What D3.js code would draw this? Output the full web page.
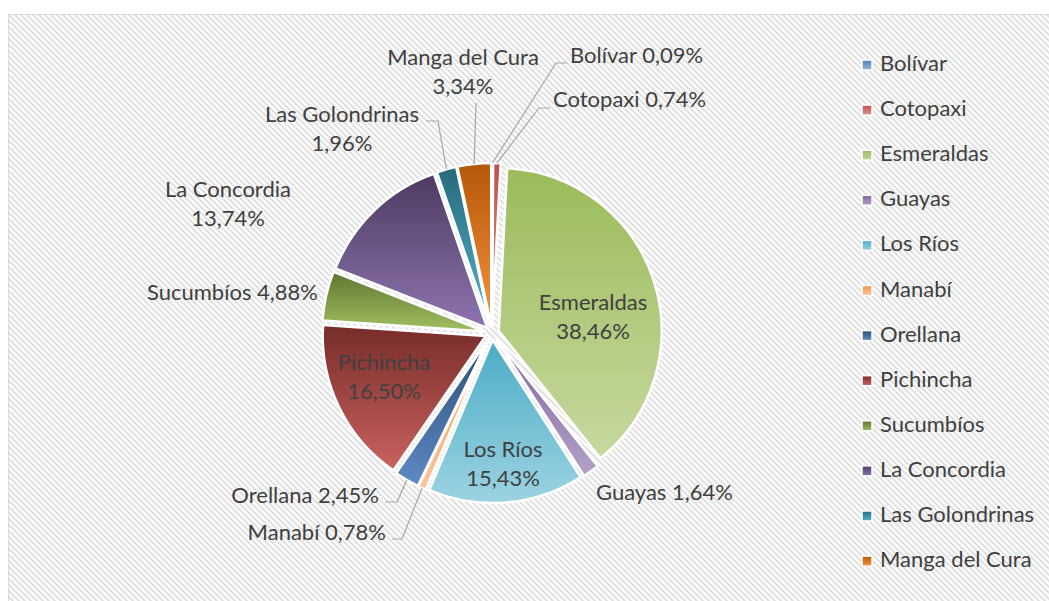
<!DOCTYPE html>
<html>
<head>
<meta charset="utf-8">
<script src="https://cdn.jsdelivr.net/npm/d3@7"></script>
<style>
  body { margin: 0; background: #fff; }
  text { font-family: Lato, "Open Sans", sans-serif; fill: #404040; }
</style>
</head>
<body>
<div id="chart"></div>
<script>
const width = 1049
const height = 601

// data
const provinces = ["Bolívar", "Cotopaxi", "Esmeraldas", "Guayas", "Los Ríos", "Manabí",
  "Orellana", "Pichincha", "Sucumbíos", "La Concordia", "Las Golondrinas", "Manga del Cura"]
const shares = [0.09, 0.74, 38.46, 1.64, 15.43, 0.78, 2.45, 16.50, 4.88, 13.74, 1.96, 3.34]

// gradient colours, top -> bottom
const topColors = ["#4f81bd", "#c0504d", "#9bbb59", "#8064a2", "#4bacc6", "#f79646",
  "#2c4d75", "#772c2a", "#5f7530", "#4d3b62", "#276a7c", "#b65708"]
const bottomColors = ["#95b3d7", "#d99694", "#c6d9a0", "#b3a2c7", "#9cd3e2", "#fbc59a",
  "#5e8bc5", "#c9625f", "#a0c060", "#8e74b0", "#52b3cc", "#f5943f"]

const fmt = v => d3.format(".2f")(v).replace(".", ",") + "%"

// label placement (baseline of first line), leader elbows
const labelLayout = {
  "Bolívar":         { x: 570, y: 63,  anchor: "start",  split: false, leader: [[556, 63], [567, 63]] },
  "Cotopaxi":        { x: 553, y: 107, anchor: "start",  split: false, leader: [[539, 108], [550, 108]] },
  "Esmeraldas":      { x: 593, y: 310, anchor: "middle", split: true },
  "Guayas":          { x: 596, y: 500, anchor: "start",  split: false },
  "Los Ríos":        { x: 503, y: 457, anchor: "middle", split: true },
  "Manabí":          { x: 386, y: 540, anchor: "end",    split: false, leader: [[402, 539], [392, 539]] },
  "Orellana":        { x: 379, y: 503, anchor: "end",    split: false, leader: [[397, 502], [385, 502]] },
  "Pichincha":       { x: 384, y: 370, anchor: "middle", split: true },
  "Sucumbíos":       { x: 318, y: 300, anchor: "end",    split: false },
  "La Concordia":    { x: 228, y: 197, anchor: "middle", split: true },
  "Las Golondrinas": { x: 342, y: 122, anchor: "middle", split: true, leader: [[438, 121], [426, 121]] },
  "Manga del Cura":  { x: 463, y: 65,  anchor: "middle", split: true, leader: [[476, 103]] }
}

const cx = 492, cy = 333, radius = 163, explode = 7
const lineGap = 29
const fontSize = "22px"

const svg = d3.select("#chart")
  .append("svg")
  .attr("width", width)
  .attr("height", height)

const defs = svg.append("defs")

// diagonal hatch background
const pat = defs.append("pattern")
  .attr("id", "hatch")
  .attr("patternUnits", "userSpaceOnUse")
  .attr("width", 6)
  .attr("height", 6)
pat.append("rect").attr("width", 6).attr("height", 6).attr("fill", "#fff")
pat.append("path")
  .attr("d", "M-1,-1 L7,7 M-1,5 L1,7 M5,-1 L7,1")
  .attr("stroke", "#e1e1e1")
  .attr("stroke-width", 2)

provinces.forEach((p, i) => {
  const g = defs.append("linearGradient")
    .attr("id", "grad" + i)
    .attr("x1", 0).attr("y1", 0).attr("x2", 0).attr("y2", 1)
  g.append("stop").attr("offset", "0%").attr("stop-color", topColors[i])
  g.append("stop").attr("offset", "100%").attr("stop-color", bottomColors[i])
})

svg.append("rect")
  .attr("x", 8.5)
  .attr("y", 14.5)
  .attr("width", width)
  .attr("height", height)
  .attr("fill", "url(#hatch)")
  .attr("stroke", "#d9d9d9")

// pie
const pie = d3.pie().sort(null).value(d => d.value)
const arc = d3.arc().innerRadius(0).outerRadius(radius)
const slices = pie(provinces.map((p, i) => ({ name: p, value: shares[i], i: i })))

const shift = d => {
  const a = (d.startAngle + d.endAngle) / 2
  return [explode * Math.sin(a), -explode * Math.cos(a)]
}

const pieG = svg.append("g").attr("transform", `translate(${cx},${cy})`)

pieG.selectAll("path")
  .data(slices)
  .enter()
  .append("path")
  .attr("d", arc)
  .attr("transform", d => `translate(${shift(d)})`)
  .attr("fill", d => `url(#grad${d.data.i})`)
  .attr("stroke", "#fff")
  .attr("stroke-width", 2.5)
  .attr("stroke-linejoin", "round")

// leader lines
slices.forEach(d => {
  const L = labelLayout[d.data.name]
  if (!L.leader) return
  const a = (d.startAngle + d.endAngle) / 2
  const s = shift(d)
  const start = [cx + s[0] + radius * Math.sin(a), cy + s[1] - radius * Math.cos(a)]
  svg.append("path")
    .attr("d", d3.line()([start, ...L.leader]))
    .attr("fill", "none")
    .attr("stroke", "#a6a6a6")
    .attr("stroke-width", 1.2)
})

// labels
slices.forEach(d => {
  const L = labelLayout[d.data.name]
  const t = svg.append("text")
    .attr("x", L.x)
    .attr("y", L.y)
    .attr("text-anchor", L.anchor)
    .style("font-size", fontSize)
  if (L.split) {
    t.append("tspan").attr("x", L.x).text(d.data.name)
    t.append("tspan").attr("x", L.x).attr("dy", lineGap).text(fmt(d.data.value))
  } else {
    t.text(d.data.name + " " + fmt(d.data.value))
  }
})

// legend
const legend = svg.append("g")
  .selectAll("g")
  .data(provinces)
  .enter()
  .append("g")
  .attr("transform", (d, i) => `translate(862,${71 + i * 45.1})`)

legend.append("rect")
  .attr("x", 0)
  .attr("y", -11)
  .attr("width", 10)
  .attr("height", 10)
  .attr("fill", (d, i) => `url(#grad${i})`)
  .attr("stroke", "#fff")
  .attr("stroke-width", 1.5)

legend.append("text")
  .attr("x", 18)
  .attr("y", 0)
  .style("font-size", fontSize)
  .text(d => d)
</script>
</body>
</html>
